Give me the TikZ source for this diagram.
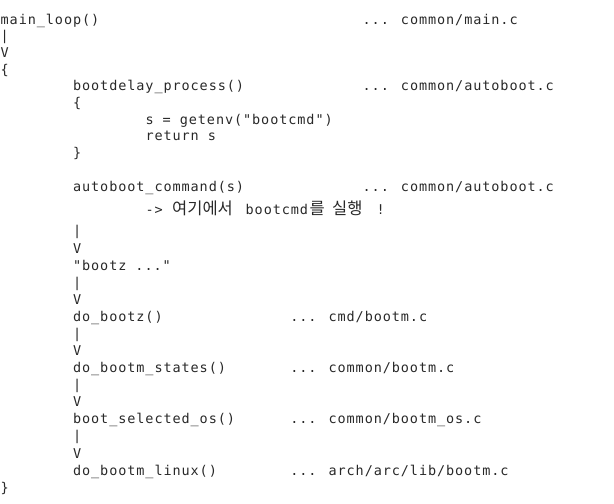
\documentclass[tikz,border=0pt]{standalone}
\usepackage{fontspec}
\newfontfamily\codefont[LetterSpace=6.8]{DejaVu Sans Mono}
\newfontfamily\hangulfont{Noto Sans CJK KR}
\definecolor{termtext}{RGB}{40,40,40}
\tikzset{
	code/.style={anchor=base west, inner sep=0pt, text=termtext, font=\codefont\fontsize{13.5}{16}\selectfont},
	hangul/.style={code, font=\hangulfont\fontsize{16.5}{18}\selectfont}
}
\begin{document}
\begin{tikzpicture}[x=1pt, y=-1pt]
		\useasboundingbox (0,0) rectangle (614,504);
		% main loop
		\node[code] (mainloop) at (0.5,24) {main\_loop()};
		\node[code] (mainsrc) at (362.5,24) {... common/main.c};
		\node[code] (bar1) at (0.5,40.7) {|};
		\node[code] (arr1) at (0.5,57.4) {V};
		\node[code] (open1) at (0.5,74.1) {\{};
		% bootdelay
		\node[code] (delay) at (72.9,90.8) {bootdelay\_process()};
		\node[code] (delaysrc) at (362.5,90.8) {... common/autoboot.c};
		\node[code] (open2) at (72.9,107.5) {\{};
		\node[code] (getenv) at (145.3,124.2) {s = getenv("bootcmd")};
		\node[code] (ret) at (145.3,140.9) {return s};
		\node[code] (close2) at (72.9,157.6) {\}};
		% autoboot
		\node[code] (autocmd) at (72.9,191) {autoboot\_command(s)};
		\node[code] (autosrc) at (362.5,191) {... common/autoboot.c};
		\node[code] (noteArrow) at (145.3,214) {->};
		\node[hangul] (noteHere) at (172,214.5) {여기에서};
		\node[code] (noteCmd) at (245.5,214) {bootcmd};
		\node[hangul] (noteObj) at (309.5,214.5) {를};
		\node[hangul] (noteRun) at (332,214.5) {실행};
		\node[code] (noteBang) at (376.5,214) {!};
		% bootz
		\node[code] (bar2) at (72.9,235.9) {|};
		\node[code] (arr2) at (72.9,253) {V};
		\node[code] (bootz) at (72.9,270.1) {"bootz ..."};
		\node[code] (bar3) at (72.9,287.2) {|};
		\node[code] (arr3) at (72.9,304.2) {V};
		\node[code] (dobootz) at (72.9,321.3) {do\_bootz()};
		\node[code] (dobootzsrc) at (290.1,321.3) {... cmd/bootm.c};
		\node[code] (bar4) at (72.9,338.4) {|};
		\node[code] (arr4) at (72.9,355.5) {V};
		\node[code] (states) at (72.9,372.6) {do\_bootm\_states()};
		\node[code] (statessrc) at (290.1,372.6) {... common/bootm.c};
		\node[code] (bar5) at (72.9,389.6) {|};
		\node[code] (arr5) at (72.9,406.7) {V};
		\node[code] (selos) at (72.9,423.8) {boot\_selected\_os()};
		\node[code] (selossrc) at (290.1,423.8) {... common/bootm\_os.c};
		\node[code] (bar6) at (72.9,440.9) {|};
		\node[code] (arr6) at (72.9,458) {V};
		\node[code] (linux) at (72.9,475) {do\_bootm\_linux()};
		\node[code] (linuxsrc) at (290.1,475) {... arch/arc/lib/bootm.c};
		\node[code] (close1) at (0.5,492.1) {\}};
	\end{tikzpicture}
\end{document}
